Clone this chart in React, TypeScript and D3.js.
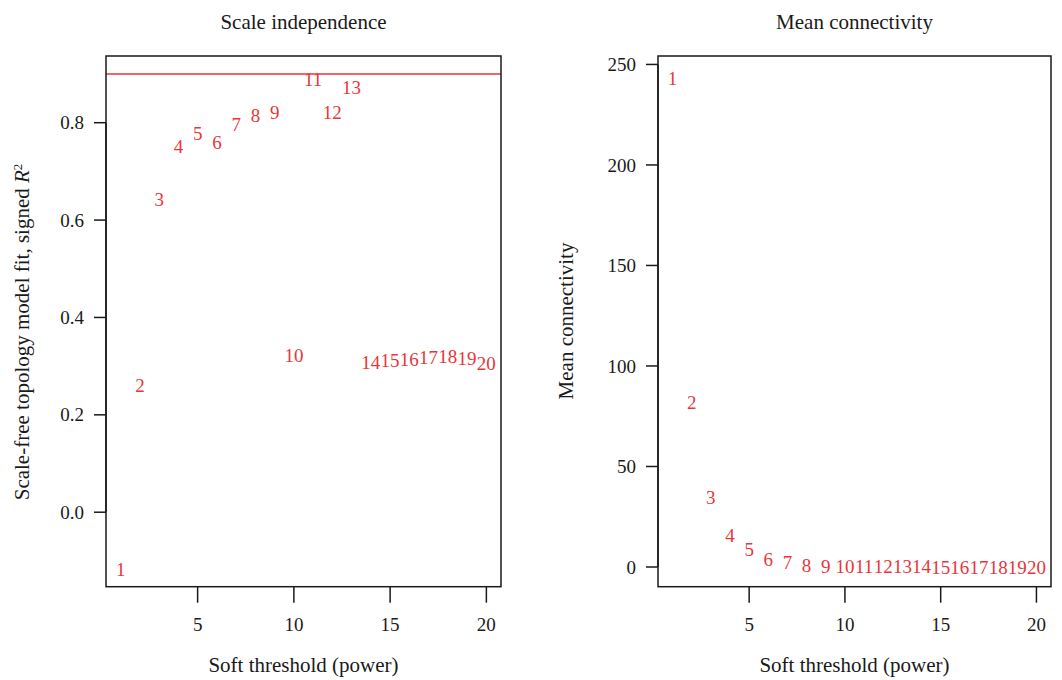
import React, { useEffect } from "react";
import * as d3 from "d3";

const powers = [1, 2, 3, 4, 5, 6, 7, 8, 9, 10, 11, 12, 13, 14, 15, 16, 17, 18, 19, 20];
const scaleFit = [-0.118, 0.261, 0.643, 0.751, 0.778, 0.76, 0.797, 0.816, 0.821, 0.322, 0.89, 0.821, 0.872, 0.307, 0.312, 0.314, 0.318, 0.32, 0.315, 0.305];
const meanConn = [243, 81.7, 34.7, 15.9, 8.8, 4.0, 2.3, 1.0, 0.4, 0.2, 0.15, 0.12, 0.1, 0.08, 0.07, 0.06, 0.05, 0.05, 0.04, 0.04];
const xTicks = [5, 10, 15, 20];
const leftYTicks = [0.0, 0.2, 0.4, 0.6, 0.8];
const rightYTicks = [0, 50, 100, 150, 200, 250];
const cutoff = 0.9;

const FONT = "'Liberation Serif', 'DejaVu Serif', serif";
const RED = "#e8363a";
const INK = "#1a1a1a";
const NUM_FS = 19;
const TXT_FS = 21;

type PanelProps = {
  left: number;
  right: number;
  top: number;
  bottom: number;
  yDomain: [number, number];
  yTicks: number[];
  yFmt: (v: number) => string;
  values: number[];
  title: string;
  yLabel: React.ReactNode;
  yLabelX: number;
  yLabelY: number;
  hline?: number;
};

function Panel(p: PanelProps) {
  const x = d3.scaleLinear().domain([0.24, 20.76]).range([p.left, p.right]);
  const y = d3.scaleLinear().domain(p.yDomain).range([p.bottom, p.top]);
  const cx = (p.left + p.right) / 2;
  return (
    <g fontFamily={FONT} fontSize={NUM_FS} fill={INK}>
      <text x={cx} y={22} dy="0.35em" textAnchor="middle" fontSize={TXT_FS}>{p.title}</text>
      {p.hline !== undefined && (
        <line x1={p.left} x2={p.right} y1={y(p.hline)} y2={y(p.hline)} stroke={RED} strokeWidth={1.5} />
      )}
      {powers.map((pw, i) => (
        <text key={pw} x={x(pw)} y={y(p.values[i])} dy="0.35em" textAnchor="middle" fill={RED}>
          {pw}
        </text>
      ))}
      <rect x={p.left} y={p.top} width={p.right - p.left} height={p.bottom - p.top} fill="none" stroke={INK} strokeWidth={1.5} />
      <line x1={p.left} x2={p.left} y1={y(p.yTicks[0])} y2={y(p.yTicks[p.yTicks.length - 1])} stroke={INK} strokeWidth={1.5} />
      {xTicks.map((t) => (
        <g key={t}>
          <line x1={x(t)} x2={x(t)} y1={p.bottom} y2={p.bottom + 16} stroke={INK} strokeWidth={1.5} />
          <text x={x(t)} y={624} dy="0.35em" textAnchor="middle">{t}</text>
        </g>
      ))}
      {p.yTicks.map((t) => (
        <g key={t}>
          <line x1={p.left - 12} x2={p.left} y1={y(t)} y2={y(t)} stroke={INK} strokeWidth={1.5} />
          <text x={p.left - 22} y={y(t)} dy="0.35em" textAnchor="end">{p.yFmt(t)}</text>
        </g>
      ))}
      <text x={cx} y={665} dy="0.35em" textAnchor="middle" fontSize={TXT_FS}>Soft threshold (power)</text>
      <text
        transform={`translate(${p.yLabelX},${p.yLabelY}) rotate(-90)`}
        dy="0.35em"
        textAnchor="middle"
        fontSize={TXT_FS}
      >
        {p.yLabel}
      </text>
    </g>
  );
}

export default function App() {
  useEffect(() => {
    document.body.style.margin = "0";
  }, []);
  return (
    <svg width={1062} height={680} style={{ display: "block", background: "#fff" }}>
      <Panel
        left={106}
        right={501}
        top={56}
        bottom={586.7}
        yDomain={[-0.153, 0.937]}
        yTicks={leftYTicks}
        yFmt={d3.format(".1f")}
        values={scaleFit}
        title="Scale independence"
        yLabelX={22}
        yLabelY={332}
        hline={cutoff}
        yLabel={
          <>
            Scale-free topology model fit, signed <tspan fontStyle="italic">R</tspan>
            <tspan fontSize={13} dy="-0.6em">2</tspan>
          </>
        }
      />
      <Panel
        left={658}
        right={1051}
        top={56}
        bottom={586.7}
        yDomain={[-9.8, 254.2]}
        yTicks={rightYTicks}
        yFmt={d3.format("d")}
        values={meanConn}
        title="Mean connectivity"
        yLabelX={566}
        yLabelY={321}
        yLabel="Mean connectivity"
      />
    </svg>
  );
}
